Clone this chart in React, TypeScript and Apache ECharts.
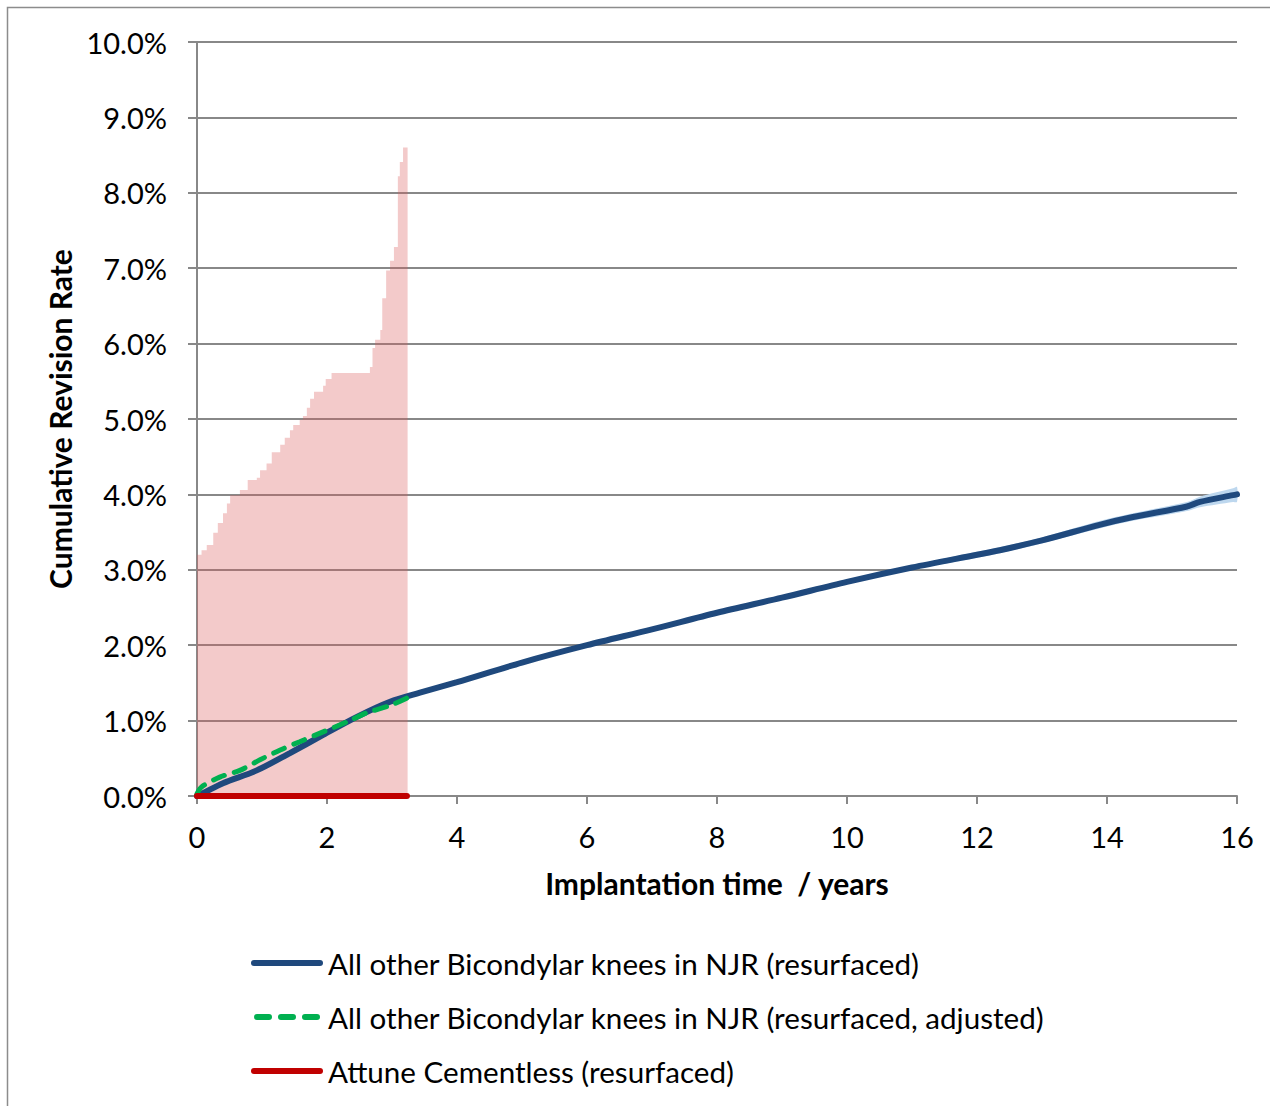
import React, { useEffect, useRef } from "react";
import * as echarts from "echarts";

const xTicks = [0, 2, 4, 6, 8, 10, 12, 14, 16];
const yTickLabels = ["0.0%", "1.0%", "2.0%", "3.0%", "4.0%", "5.0%", "6.0%", "7.0%", "8.0%", "9.0%", "10.0%"];

const legendNames = [
  "All other Bicondylar knees in NJR (resurfaced)",
  "All other Bicondylar knees in NJR (resurfaced, adjusted)",
  "Attune Cementless (resurfaced)",
];

// Attune upper confidence bound (step), years / %
const attuneCiX = [0, 0.07, 0.15, 0.25, 0.32, 0.4, 0.46, 0.51, 0.66, 0.78, 0.92, 0.97, 1.07, 1.15, 1.28, 1.35, 1.43, 1.48, 1.58, 1.63, 1.69, 1.74, 1.8, 1.94, 1.98, 2.07, 2.66, 2.7, 2.74, 2.82, 2.85, 2.91, 2.97, 3.03, 3.09, 3.12, 3.17, 3.24];
const attuneCiHigh = [3.2, 3.26, 3.33, 3.49, 3.62, 3.75, 3.88, 3.99, 4.06, 4.19, 4.22, 4.32, 4.41, 4.56, 4.66, 4.75, 4.85, 4.92, 4.99, 5.04, 5.15, 5.27, 5.36, 5.44, 5.53, 5.61, 5.69, 5.94, 6.05, 6.18, 6.6, 6.97, 7.1, 7.28, 8.22, 8.41, 8.6, 8.6];

// All other bicondylar knees
const njrX = [0, 0.1, 0.4, 0.92, 1.43, 1.94, 2.46, 2.97, 3.43, 4, 5, 6, 7, 8, 9, 10, 11, 12, 12.35, 13, 13.9, 14.4, 15.23, 15.43, 15.94, 16];
const njrY = [0, 0.04, 0.17, 0.34, 0.57, 0.81, 1.05, 1.25, 1.37, 1.51, 1.77, 2.0, 2.21, 2.43, 2.63, 2.84, 3.03, 3.2, 3.26, 3.39, 3.6, 3.7, 3.84, 3.9, 3.99, 4.0];
const njrLow = [0, 0.04, 0.16, 0.33, 0.56, 0.8, 1.04, 1.24, 1.36, 1.5, 1.75, 1.98, 2.19, 2.41, 2.6, 2.81, 3.0, 3.16, 3.22, 3.35, 3.55, 3.65, 3.78, 3.83, 3.9, 3.9];
const njrHigh = [0, 0.04, 0.18, 0.35, 0.58, 0.82, 1.06, 1.26, 1.38, 1.52, 1.79, 2.02, 2.23, 2.45, 2.66, 2.87, 3.06, 3.24, 3.3, 3.43, 3.65, 3.75, 3.9, 3.97, 4.08, 4.1];

// Adjusted
const adjX = [0, 0.07, 0.35, 0.66, 0.97, 1.28, 1.58, 1.94, 2.3, 2.6, 2.97, 3.23];
const adjY = [0.03, 0.12, 0.25, 0.34, 0.48, 0.61, 0.72, 0.85, 0.98, 1.1, 1.2, 1.3];

// Attune
const attuneX = [0, 3.23];
const attuneY = [0, 0];

const FONT = "Lato";

const ICON_SOLID = "path://M3,0H69A3,3 0 0 1 69,6H3A3,3 0 0 1 3,0Z";
const ICON_DASH =
  "path://M3,0H15A3,3 0 0 1 15,6H3A3,3 0 0 1 3,0Z M27,0H39A3,3 0 0 1 39,6H27A3,3 0 0 1 27,0Z M51,0H63A3,3 0 0 1 63,6H51A3,3 0 0 1 51,0Z";

export default function App() {
  const ref = useRef<HTMLDivElement>(null);
  useEffect(() => {
    document.body.style.margin = "0";
    document.body.style.overflow = "hidden";
    const chart = echarts.init(ref.current!, null, { renderer: "svg" });
    const zip = (xs: number[], ys: number[]) => xs.map((x, i) => [x, ys[i]]);
    chart.setOption({
      animation: false,
      textStyle: { fontFamily: FONT },
      grid: { left: 197, right: 33, top: 42, bottom: 310, containLabel: false },
      graphic: [
        {
          type: "rect",
          shape: { x: 7.5, y: 7.5, width: 1400, height: 1400 },
          style: { fill: "none", stroke: "#8c8c8c", lineWidth: 1.5 },
          silent: true,
        },
      ],
      legend: {
        data: [
          { name: legendNames[0], icon: ICON_SOLID },
          { name: legendNames[1], icon: ICON_DASH },
          { name: legendNames[2], icon: ICON_SOLID },
        ],
        orient: "vertical",
        left: 251,
        top: 948,
        padding: 0,
        itemWidth: 72,
        itemHeight: 6,
        itemGap: 24,
        textStyle: { fontFamily: FONT, fontSize: 29.6, lineHeight: 30, color: "#000" },
        selectedMode: false,
      },
      xAxis: {
        type: "value",
        min: 0,
        max: 16,
        interval: 2,
        name: "Implantation time  / years",
        nameLocation: "middle",
        nameGap: 72,
        nameTextStyle: { fontFamily: FONT, fontSize: 30, fontWeight: "bold", color: "#000" },
        axisLine: { show: true, lineStyle: { color: "#888", width: 2 } },
        axisTick: { show: true, length: 8, lineStyle: { color: "#888", width: 2 } },
        axisLabel: {
          fontFamily: FONT,
          fontSize: 29,
          color: "#000",
          margin: 26,
          formatter: (v: number) => (xTicks.includes(v) ? String(v) : ""),
        },
        splitLine: { show: false },
      },
      yAxis: {
        type: "value",
        min: 0,
        max: 10,
        interval: 1,
        name: "Cumulative Revision Rate",
        nameLocation: "middle",
        nameGap: 122,
        nameTextStyle: { fontFamily: FONT, fontSize: 30, fontWeight: "bold", color: "#000" },
        axisLine: { show: true, lineStyle: { color: "#888", width: 2 } },
        axisTick: { show: true, length: 9, lineStyle: { color: "#888", width: 2 } },
        axisLabel: {
          fontFamily: FONT,
          fontSize: 29,
          color: "#000",
          margin: 30,
          formatter: (v: number) => yTickLabels[Math.round(v)] ?? "",
        },
        splitLine: { show: true, lineStyle: { color: "#888", width: 2 } },
      },
      series: [
        {
          name: "Attune CI",
          type: "line",
          step: "end",
          data: zip(attuneCiX, attuneCiHigh),
          showSymbol: false,
          symbol: "none",
          lineStyle: { width: 0, opacity: 0 },
          areaStyle: { color: "rgba(218, 90, 90, 0.32)", opacity: 1 },
          z: 1,
        },
        {
          name: "NJR CI",
          type: "custom",
          data: [[0, 0]],
          z: 2,
          silent: true,
          renderItem: (params: any, api: any) => {
            if (params.dataIndex !== 0) return null;
            const upper = njrX.map((x, i) => api.coord([x, njrHigh[i]]));
            const lower = njrX.map((x, i) => api.coord([x, njrLow[i]])).reverse();
            return {
              type: "polygon",
              shape: { points: upper.concat(lower), smooth: 0.3 },
              style: { fill: "#bdd7ee", stroke: "none" },
            };
          },
        },
        {
          name: legendNames[0],
          type: "line",
          data: zip(njrX, njrY),
          symbol: "none",
          smooth: 0.3,
          lineStyle: { color: "#1f497d", width: 6, cap: "round" },
          itemStyle: { color: "#1f497d" },
          z: 3,
        },
        {
          name: legendNames[1],
          type: "line",
          data: zip(adjX, adjY),
          symbol: "none",
          smooth: 0.3,
          lineStyle: { color: "#00b050", width: 5, type: [12, 10], cap: "round" },
          itemStyle: { color: "#00b050" },
          z: 4,
        },
        {
          name: legendNames[2],
          type: "line",
          data: zip(attuneX, attuneY),
          symbol: "none",
          lineStyle: { color: "#c00000", width: 6, cap: "round" },
          itemStyle: { color: "#c00000" },
          z: 5,
        },
      ],
    });
    return () => chart.dispose();
  }, []);
  return <div ref={ref} style={{ width: 1270, height: 1106 }} />;
}
